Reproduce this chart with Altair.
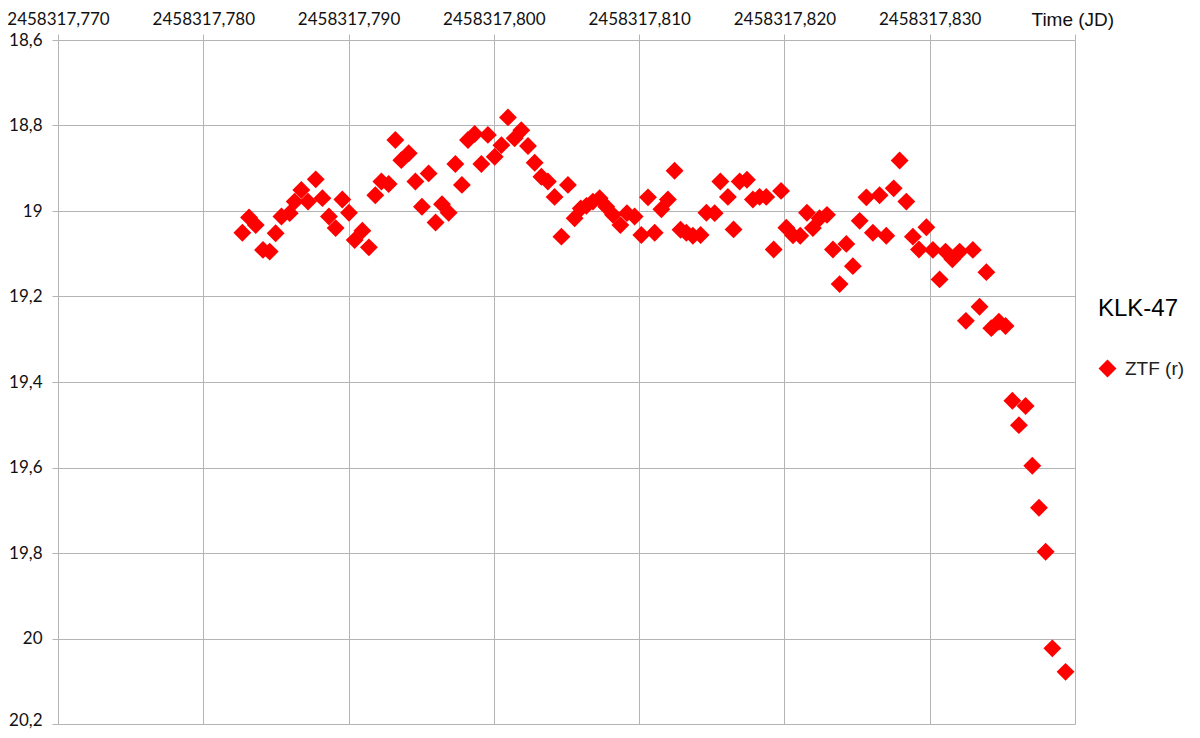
import altair as alt
import pandas as pd

jd = [
    2458317.78269, 2458317.78315, 2458317.78361, 2458317.78411, 2458317.78457,
    2458317.78498, 2458317.78538, 2458317.78595, 2458317.78629, 2458317.78675,
    2458317.78721, 2458317.78774, 2458317.78820, 2458317.78865, 2458317.78911,
    2458317.78957, 2458317.79003, 2458317.79042, 2458317.79095, 2458317.79140,
    2458317.79184, 2458317.79226, 2458317.79276, 2458317.79322, 2458317.79363,
    2458317.79414, 2458317.79460, 2458317.79505, 2458317.79551, 2458317.79599,
    2458317.79643, 2458317.79689, 2458317.79735, 2458317.79780, 2458317.79822,
    2458317.79868, 2458317.79914, 2458317.79959, 2458317.80006, 2458317.80052,
    2458317.80097, 2458317.80143, 2458317.80189, 2458317.80235, 2458317.80281,
    2458317.80327, 2458317.80372, 2458317.80418, 2458317.80465, 2458317.80510,
    2458317.80556, 2458317.80598, 2458317.80637, 2458317.80682, 2458317.80728,
    2458317.80774, 2458317.80820, 2458317.80871, 2458317.80916, 2458317.80969,
    2458317.81015, 2458317.81061, 2458317.81107, 2458317.81153, 2458317.81198,
    2458317.81244, 2458317.81285, 2458317.81325, 2458317.81370, 2458317.81423,
    2458317.81463, 2458317.81520, 2458317.81559, 2458317.81611, 2458317.81650,
    2458317.81692, 2458317.81742, 2458317.81783, 2458317.81829, 2458317.81875,
    2458317.81926, 2458317.81977, 2458317.82013, 2458317.82059, 2458317.82109,
    2458317.82155, 2458317.82196, 2458317.82242, 2458317.82293, 2458317.82334,
    2458317.82380, 2458317.82426, 2458317.82471, 2458317.82518, 2458317.82564,
    2458317.82609, 2458317.82655, 2458317.82701, 2458317.82752, 2458317.82793,
    2458317.82839, 2458317.82884, 2458317.82926, 2458317.82977, 2458317.83022,
    2458317.83068, 2458317.83109, 2458317.83156, 2458317.83206, 2458317.83249,
    2458317.83297, 2458317.83343, 2458317.83390, 2458317.83424, 2458317.83476,
    2458317.83522, 2458317.83569, 2458317.83614, 2458317.83660, 2458317.83706,
    2458317.83752, 2458317.83798, 2458317.83844, 2458317.83935,
]

mag = [
    19.051, 19.015, 19.033, 19.091, 19.095,
    19.052, 19.013, 19.005, 18.978, 18.951,
    18.978, 18.926, 18.970, 19.013, 19.040,
    18.973, 19.004, 19.068, 19.046, 19.085,
    18.963, 18.931, 18.937, 18.834, 18.881,
    18.865, 18.931, 18.990, 18.912, 19.027,
    18.984, 19.004, 18.890, 18.939, 18.834,
    18.820, 18.890, 18.822, 18.873, 18.846,
    18.781, 18.830, 18.811, 18.848, 18.887,
    18.920, 18.931, 18.967, 19.060, 18.939,
    19.017, 18.994, 18.988, 18.978, 18.970,
    18.990, 19.009, 19.033, 19.005, 19.013,
    19.056, 18.968, 19.051, 18.996, 18.973,
    18.906, 19.044, 19.051, 19.058, 19.056,
    19.004, 19.005, 18.931, 18.967, 19.043,
    18.931, 18.927, 18.973, 18.967, 18.967,
    19.090, 18.953, 19.039, 19.057, 19.058,
    19.004, 19.040, 19.017, 19.009, 19.090,
    19.171, 19.077, 19.129, 19.023, 18.968,
    19.051, 18.963, 19.058, 18.947, 18.882,
    18.978, 19.060, 19.090, 19.038, 19.091,
    19.160, 19.095, 19.113, 19.095, 19.257,
    19.091, 19.224, 19.143, 19.274, 19.259,
    19.269, 19.444, 19.501, 19.456, 19.596,
    19.694, 19.797, 20.023, 20.078,
]

series_name = "ZTF (r)"
legend_title = "KLK-47"
x_title = "Time (JD)"

x_ticks = [2458317.770, 2458317.780, 2458317.790, 2458317.800,
           2458317.810, 2458317.820, 2458317.830, 2458317.840]
y_ticks = [18.6, 18.8, 19.0, 19.2, 19.4, 19.6, 19.8, 20.0, 20.2]

df = pd.DataFrame({"jd": jd, "mag": mag, "series": [series_name] * len(jd)})

GRID = "#b4b4b4"
FONT = "Lato"

chart = alt.Chart(df).mark_point(
    shape="diamond", filled=True, size=320, opacity=1, strokeWidth=0
).encode(
    x=alt.X(
        "jd:Q",
        scale=alt.Scale(domain=[2458317.770, 2458317.840], nice=False, zero=False),
        axis=alt.Axis(
            orient="top",
            values=x_ticks,
            title=x_title,
            titleX=973,
            titleY=-15,
            titleAlign="left",
            titleBaseline="alphabetic",
            titleFont="Liberation Sans",
            titleFontSize=19,
            titleFontWeight="normal",
            titleColor="#111111",
            labelExpr="datum.value > 2458317.835 ? '' : replace(format(datum.value, '.3f'), '.', ',')",
            labelFont=FONT,
            labelFontSize=17,
            labelColor="#111111",
            labelPadding=6,
            labelFlush=False,
            labelOverlap=False,
            tickColor=GRID,
            tickSize=6,
            grid=True,
            gridColor=GRID,
            domain=False,
        ),
    ),
    y=alt.Y(
        "mag:Q",
        scale=alt.Scale(domain=[18.6, 20.2], reverse=True, nice=False, zero=False),
        axis=alt.Axis(
            values=y_ticks,
            title=None,
            labelExpr="replace(format(datum.value, '.1~f'), '.', ',')",
            labelFont=FONT,
            labelFontSize=17,
            labelColor="#111111",
            labelPadding=10,
            labelFlush=False,
            labelOverlap=False,
            labelBaseline={"condition": {"test": "datum.value > 20.1", "value": "alphabetic"}, "value": "middle"},
            labelOffset={"condition": {"test": "datum.value > 20.1", "value": 1}, "value": 0},
            tickColor=GRID,
            tickSize=6,
            grid=True,
            gridColor=GRID,
            domain=False,
        ),
    ),
    color=alt.Color(
        "series:N",
        scale=alt.Scale(domain=[series_name], range=["#ff0000"]),
        legend=alt.Legend(
            title=legend_title,
            orient="none",
            legendX=1040,
            legendY=257,
            titleFont="Liberation Sans",
            titleFontSize=24,
            titleFontWeight="normal",
            titleColor="#000000",
            titlePadding=38,
            labelFont="Liberation Sans",
            labelFontSize=19,
            labelColor="#222222",
            labelOffset=8,
            symbolType="diamond",
            symbolSize=320,
            symbolOpacity=1,
            symbolStrokeWidth=0,
            padding=0,
        ),
    ),
).properties(
    width=1017,
    height=684,
    autosize=alt.AutoSizeParams(type="none"),
    padding={"left": 50, "top": 32, "right": 112, "bottom": 6},
).configure_view(stroke=None)

chart.save("out.html", embed_options={"renderer": "svg", "actions": False})
